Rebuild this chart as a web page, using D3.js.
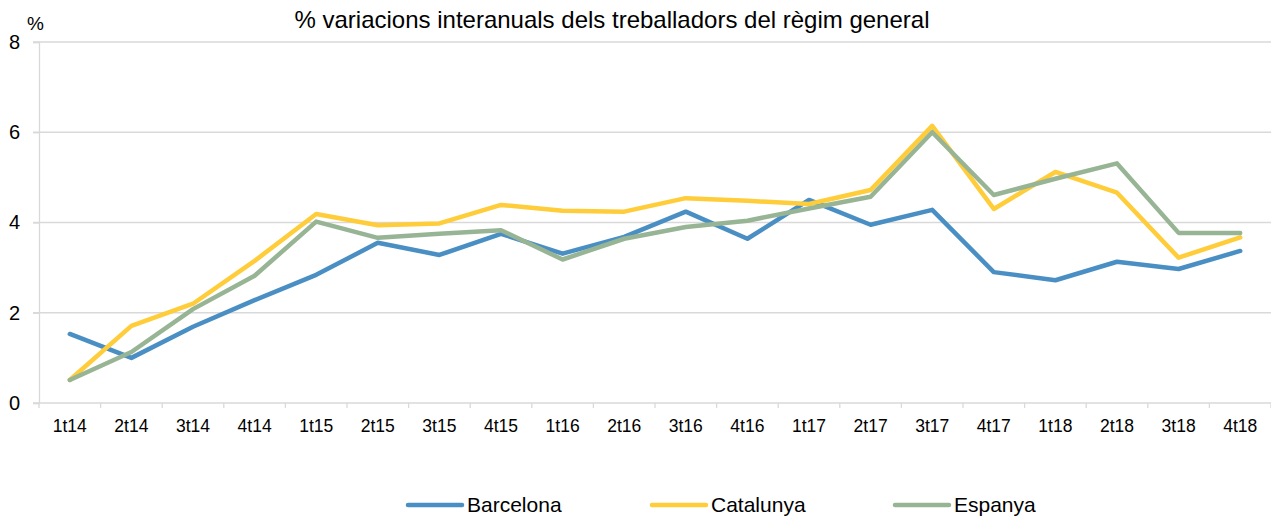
<!DOCTYPE html>
<html><head><meta charset="utf-8">
<script src="https://cdn.jsdelivr.net/npm/d3@7"></script>
<style>body{margin:0;background:#fff;}svg{display:block;font-family:"Liberation Sans",Arial,sans-serif;}</style>
</head><body>
<svg id="c" width="1271" height="517"></svg>
<script>
const categories = ["1t14","2t14","3t14","4t14","1t15","2t15","3t15","4t15","1t16","2t16","3t16","4t16","1t17","2t17","3t17","4t17","1t18","2t18","3t18","4t18"];
const barcelona = [1.53,1.0,1.69,2.28,2.84,3.55,3.28,3.75,3.31,3.68,4.24,3.64,4.5,3.95,4.28,2.9,2.72,3.13,2.97,3.37];
const catalunya = [0.51,1.71,2.2,3.15,4.19,3.94,3.98,4.39,4.26,4.24,4.54,4.48,4.41,4.72,6.14,4.3,5.12,4.66,3.22,3.67];
const espanya = [0.51,1.13,2.08,2.82,4.02,3.66,3.75,3.83,3.18,3.64,3.9,4.04,4.31,4.57,6.0,4.61,4.97,5.31,3.77,3.77];
const yTicks = [0,2,4,6,8];
const seriesNames = ["Barcelona","Catalunya","Espanya"];
const colors = ["#4A8FC4","#FFCC3A","#97B494"];

const svg = d3.select("#c");
const x = d3.scaleBand().domain(categories).range([39,1271]);
const y = d3.scaleLinear().domain([0,8]).range([403,42]);
const FF = "Liberation Sans, Arial, sans-serif";

// gridlines
svg.append("g").selectAll("line").data(yTicks.filter(d=>d>0)).join("line")
  .attr("x1",33).attr("x2",1271).attr("y1",d=>y(d)).attr("y2",d=>y(d))
  .attr("stroke","#d9d9d9").attr("stroke-width",1.3);

// y axis
const ya = svg.append("g").attr("transform","translate(39,0)")
  .call(d3.axisLeft(y).tickValues(yTicks).tickSize(6).tickFormat(d3.format("d")));
ya.select(".domain").attr("stroke","#d9d9d9").attr("stroke-width",1.3);
ya.selectAll(".tick line").attr("stroke","#d9d9d9").attr("stroke-width",1.3);
ya.selectAll("text").attr("font-size",20).attr("fill","#000").attr("x",-19)
  .attr("font-family",FF);

// x axis
const xa = svg.append("g").attr("transform","translate(0,403)")
  .call(d3.axisBottom(x).tickSize(0));
xa.select(".domain").attr("stroke","#d9d9d9").attr("stroke-width",1.3).attr("d","M33,0H1271");
xa.selectAll("text").attr("font-size",17.5).attr("fill","#000").attr("y",29).attr("dy",null)
  .attr("font-family",FF);
const bounds = categories.map(c=>x(c)).concat([x.range()[1]]);
svg.append("g").selectAll("line").data(bounds).join("line")
  .attr("x1",d=>d).attr("x2",d=>d).attr("y1",403).attr("y2",408)
  .attr("stroke","#d9d9d9").attr("stroke-width",1.3);

// lines
const line = d3.line().x((d,i)=>x(categories[i])+x.bandwidth()/2).y(d=>y(d));
const data = [barcelona,catalunya,espanya];
data.forEach((s,k)=>{
  svg.append("path").datum(s).attr("d",line).attr("fill","none")
    .attr("stroke",colors[k]).attr("stroke-width",4.5)
    .attr("stroke-linejoin","round").attr("stroke-linecap","round");
});

// title
svg.append("text").attr("x",612).attr("y",28).attr("text-anchor","middle")
  .attr("font-size",24).attr("fill","#000")
  .text("% variacions interanuals dels treballadors del règim general");
svg.append("text").attr("x",27).attr("y",30).attr("font-size",19).attr("fill","#000").text("%");

// legend
const legX = [408,652,895];
seriesNames.forEach((n,k)=>{
  svg.append("line").attr("x1",legX[k]).attr("x2",legX[k]+54).attr("y1",505).attr("y2",505)
    .attr("stroke",colors[k]).attr("stroke-width",4.5).attr("stroke-linecap","round");
  svg.append("text").attr("x",legX[k]+59).attr("y",512).attr("font-size",21).attr("fill","#000").text(n);
});
</script>
</body></html>
